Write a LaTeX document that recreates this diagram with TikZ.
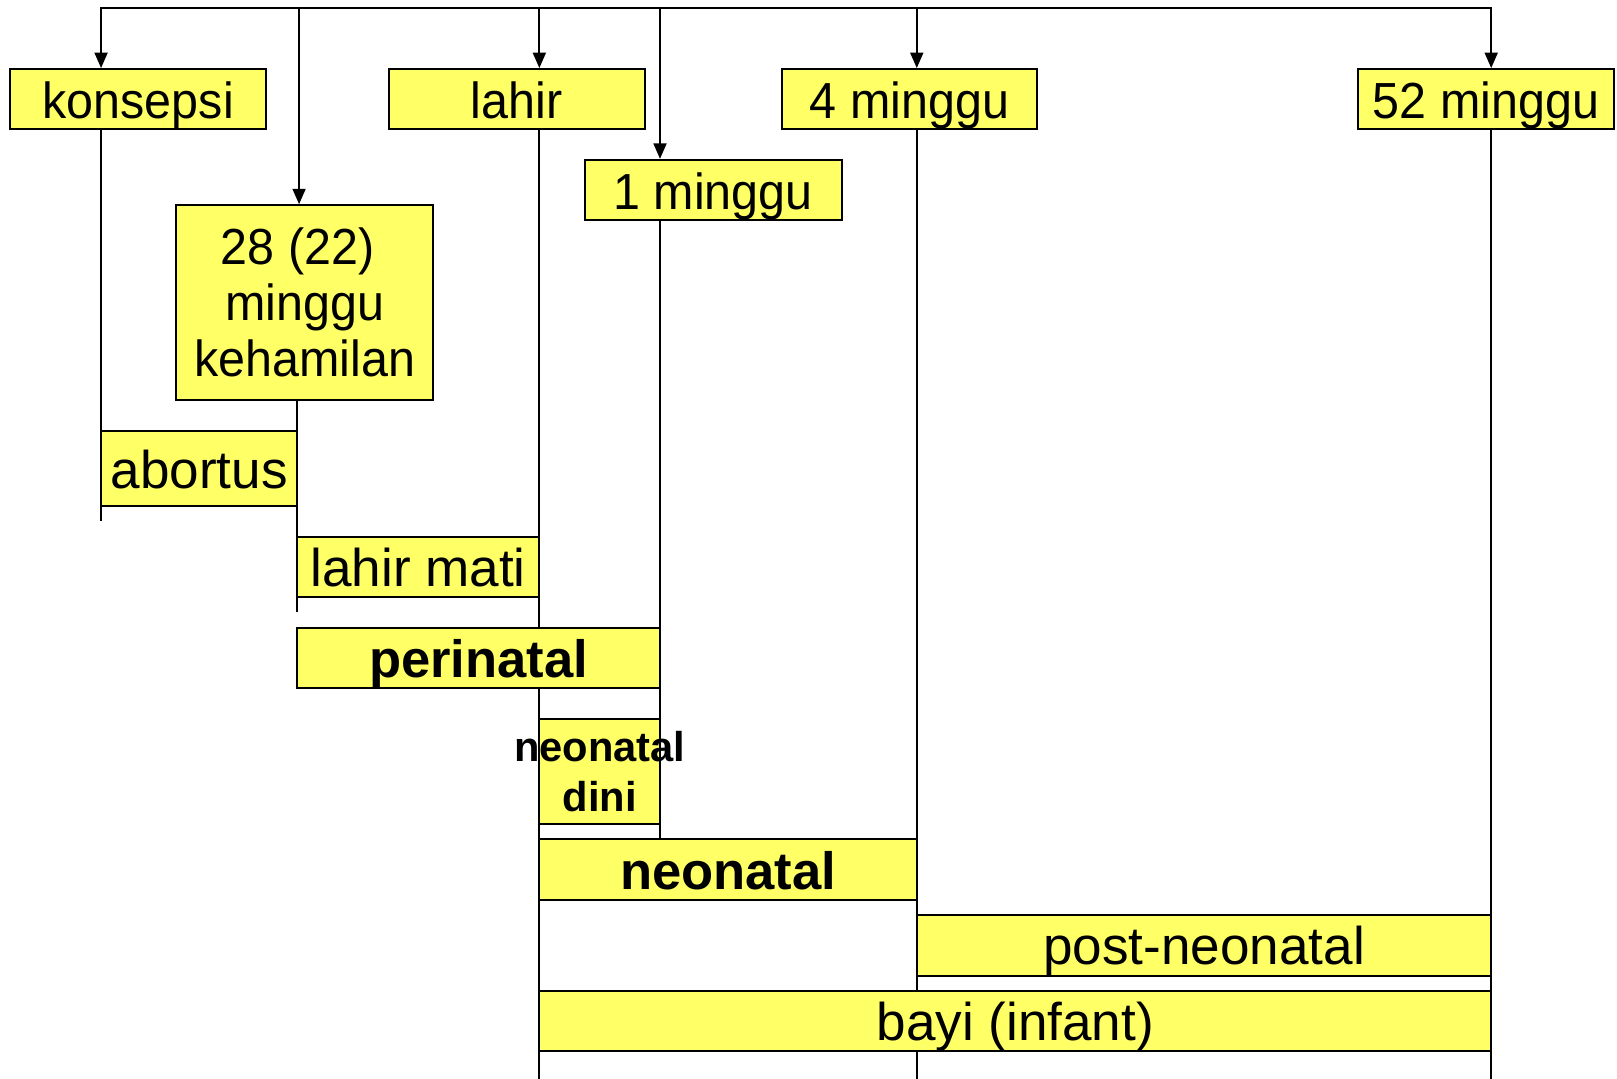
\documentclass[tikz,border=0pt]{standalone}
\usepackage{fontspec}
\setmainfont{Liberation Sans}
\newfontfamily\narrowsans{Liberation Sans}[FakeStretch=0.955]
\usetikzlibrary{arrows.meta}
\pgfdeclarelayer{bg}
\pgfsetlayers{bg,main}
\definecolor{boxyellow}{RGB}{255,255,102}
\begin{document}
\begin{tikzpicture}[x=0.02cm,y=-0.02cm,
  bx/.style={draw=black,fill=boxyellow,line width=1.1pt,inner sep=0pt,
    font=\fontsize{28}{31}\selectfont\narrowsans},
  one/.style={text height=21.3pt,text depth=0pt},
  multi/.style={align=center},
  wide/.style={font=\fontsize{29.3}{32}\selectfont\rmfamily},
  sz/.style 2 args={minimum width=#1*0.02cm,minimum height=#2*0.02cm},
  boldtext/.style={font=\fontsize{29}{32}\selectfont\rmfamily\bfseries},
  tl/.style={line width=1pt},
  bar/.style={line width=1.2pt,line cap=rect},
  conn/.style={line width=1.2pt,-{Triangle[length=0.3cm,width=0.25cm]}}
]
\useasboundingbox (0,0) rectangle (1568,1046);

% boxes
\node[bx,one,sz={248}{58}] (konsepsi) at (134,96) {konsepsi};
\node[bx,one,sz={248}{58}] (lahir) at (501,96) {lahir};
\node[bx,one,sz={248}{58}] (m4) at (882,96) {4 minggu};
\node[bx,one,sz={248}{58}] (m52) at (1441,96) {52 minggu};
\node[bx,one,sz={249}{58}] (m1) at (691.5,184) {1 minggu};
\node[bx,multi,sz={249}{189}] (m28) at (295.5,293.5) {28 (22)\hbox to 0.28em{}\\minggu\\kehamilan};
\node[bx,one,wide,sz={190}{73}] (abortus) at (193,454.5) {abortus};
\node[bx,one,wide,sz={235}{58}] (lahirmati) at (405.5,550) {lahir mati};
\node[bx,one,boldtext,sz={352}{58}] (perinatal) at (464,638) {perinatal};
\node[bx,multi,sz={117}{102},font=\fontsize{23}{27.3}\selectfont\rmfamily\bfseries] (dini) at (581.5,748) {\makebox[0pt]{neonatal}\\\makebox[0pt]{dini}};
\node[bx,one,boldtext,sz={366}{59}] (neonatal) at (706,843.5) {neonatal};
\node[bx,one,wide,sz={557}{59}] (postneo) at (1167.5,916.5) {post-neonatal};
\node[bx,one,wide,sz={923}{58}] (bayi) at (984.5,990) {bayi (infant)};

% coordinates
\coordinate (t1) at (98,8);
\coordinate (t2) at (290,8);
\coordinate (t3) at (523,8);
\coordinate (t4) at (640,8);
\coordinate (t5) at (889,8);
\coordinate (t6) at (1446,8);
\coordinate (e1) at (98,505);
\coordinate (e2) at (288,593);
\coordinate (e3) at (523,1046);
\coordinate (e5) at (889,1046);
\coordinate (e6) at (1446,1046);

\begin{pgfonlayer}{bg}
  \fill[white] (0,0) rectangle (1568,1046);
  \draw[bar] (t1) -- (t6);
  \draw[conn] (t1) -- (t1 |- konsepsi.north);
  \draw[conn] (t2) -- (t2 |- m28.north);
  \draw[conn] (t3) -- (t3 |- lahir.north);
  \draw[conn] (t4) -- (t4 |- m1.north);
  \draw[conn] (t5) -- (t5 |- m4.north);
  \draw[conn] (t6) -- (t6 |- m52.north);
  \draw[tl] (t1 |- konsepsi.south) -- (e1);
  \draw[tl] (e2 |- m28.south) -- (e2);
  \draw[tl] (t3 |- lahir.south) -- (e3);
  \draw[tl] (t4 |- m1.south) -- (t4 |- neonatal.north);
  \draw[tl] (t5 |- m4.south) -- (e5);
  \draw[tl] (t6 |- m52.south) -- (e6);
\end{pgfonlayer}
\end{tikzpicture}
\end{document}
